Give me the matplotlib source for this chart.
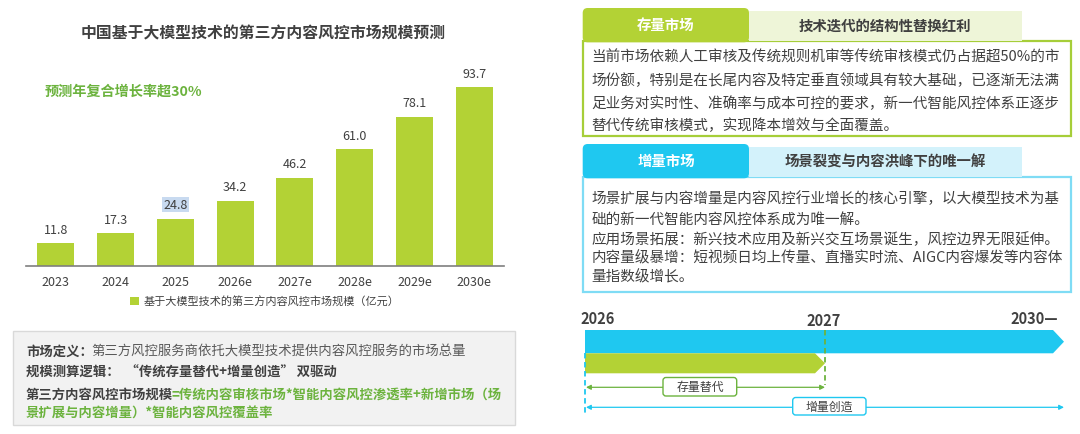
import matplotlib
matplotlib.use("Agg")
import matplotlib.pyplot as plt
from matplotlib.patches import Rectangle, FancyBboxPatch, Polygon

plt.rcParams['font.family'] = ['Noto Sans CJK SC', 'DejaVu Sans']

# data
years = ["2023", "2024", "2025", "2026e", "2027e", "2028e", "2029e", "2030e"]
values = [11.8, 17.3, 24.8, 34.2, 46.2, 61.0, 78.1, 93.7]
series_name = "基于大模型技术的第三方内容风控市场规模（亿元）"
title = "中国基于大模型技术的第三方内容风控市场规模预测"
cagr_note = "预测年复合增长率超30%"

box1_tab, box1_head = "存量市场", "技术迭代的结构性替换红利"
box1_lines = [
    "当前市场依赖人工审核及传统规则机审等传统审核模式仍占据超50%的市",
    "场份额，特别是在长尾内容及特定垂直领域具有较大基础，已逐渐无法满",
    "足业务对实时性、准确率与成本可控的要求，新一代智能风控体系正逐步",
    "替代传统审核模式，实现降本增效与全面覆盖。",
]
box2_tab, box2_head = "增量市场", "场景裂变与内容洪峰下的唯一解"
box2_lines = [
    "场景扩展与内容增量是内容风控行业增长的核心引擎，以大模型技术为基",
    "础的新一代智能内容风控体系成为唯一解。",
    "应用场景拓展：新兴技术应用及新兴交互场景诞生，风控边界无限延伸。",
    "内容量级暴增：短视频日均上传量、直播实时流、AIGC内容爆发等内容体",
    "量指数级增长。",
]

LIME = "#b3d235"
GREEN_TXT = "#6cb33e"
BLUE = "#1fc8f0"
DARK = "#404040"

fig = plt.figure(figsize=(10.8, 4.35), dpi=100)
renderer = fig.canvas.get_renderer()

# overlay in pixel units
ov = fig.add_axes([0, 0, 1, 1])
ov.set_xlim(0, 1080)
ov.set_ylim(435, 0)
ov.axis("off")

# bar chart
ax = fig.add_axes([26 / 1080, (435 - 267) / 435, 478 / 1080, 207 / 435])
ax.patch.set_alpha(0)
x = range(len(years))
bars = ax.bar(x, values, width=0.62, color=LIME, label=series_name)
ax.set_xlim(-0.5, len(years) - 0.5)
ax.set_ylim(0, 93.7 * 207 / 179)
ax.set_xticks(list(x))
ax.set_xticklabels(years, fontsize=9, color=DARK)
ax.tick_params(axis="x", length=0, pad=6.5)
ax.set_yticks([])
for s in ["top", "left", "right"]:
    ax.spines[s].set_visible(False)
ax.spines["bottom"].set_color("#7f7f7f")
ax.spines["bottom"].set_linewidth(1.2)
for i, v in enumerate(values):
    kw = {}
    if years[i] == "2025":
        kw["bbox"] = dict(boxstyle="square,pad=0.08", fc="#c8daf0", ec="none")
    ax.annotate(f"{v:.1f}", (i, v), xytext=(0, 10), textcoords="offset points",
                ha="center", va="center", fontsize=9, color=DARK, **kw)
ax.legend(loc="center", bbox_to_anchor=(0.5, -0.17), frameon=False, fontsize=8,
          handlelength=0.8, handleheight=0.8, handletextpad=0.4, labelcolor=DARK)

ov.text(263, 33, title, ha="center", va="center", fontsize=11.4, fontweight="bold", color=DARK)
ov.text(45, 92, cagr_note, ha="left", va="center", fontsize=10.2, fontweight="bold", color=GREEN_TXT)


def seq_text(x0, y, parts, size):
    xx = x0
    for s, color, weight in parts:
        t = ov.text(xx, y, s, fontsize=size, color=color, fontweight=weight, ha="left", va="center")
        xx += t.get_window_extent(renderer).width - 2


# bottom definition box
ov.add_patch(Rectangle((12.7, 332), 502, 94, fc="#f2f2f2", ec="#d9d9d9", lw=1))
fs = 9.6
seq_text(26, 351.5, [("市场定义：", DARK, "bold"),
                     ("第三方风控服务商依托大模型技术提供内容风控服务的市场总量", "#595959", "normal")], fs)
seq_text(26, 373, [("规模测算逻辑：  “传统存量替代+增量创造” 双驱动", DARK, "bold")], fs)
seq_text(26, 395, [("第三方内容风控市场规模", DARK, "bold"),
                   ("=传统内容审核市场*智能内容风控渗透率+新增市场（场", GREEN_TXT, "bold")], fs)
seq_text(26, 414, [("景扩展与内容增量）*智能内容风控覆盖率", GREEN_TXT, "bold")], fs)


def info_box(top, tab, head, lines, tab_color, head_color, edge, tab_h, body_bottom, line_ys):
    ov.add_patch(Rectangle((582.7, top + tab_h), 1071 - 582.7, body_bottom - top - tab_h,
                           fc="white", ec=edge, lw=1.6, zorder=2))
    ov.add_patch(Rectangle((749, top + 2.7), 1021.7 - 749, tab_h - 2.7, fc=head_color, ec="none", zorder=3))
    ov.add_patch(FancyBboxPatch((582.7, top), 749 - 582.7, tab_h + 1,
                                boxstyle="round,pad=0,rounding_size=5", fc=tab_color, ec="none", zorder=4))
    ov.text(666, top + tab_h / 2 + 0.5, tab, ha="center", va="center", fontsize=10.4,
            fontweight="bold", color="white", zorder=5)
    ov.text(885, top + 2.7 + (tab_h - 2.7) / 2, head, ha="center", va="center", fontsize=10.4,
            fontweight="bold", color=DARK, zorder=5)
    for ln, yy in zip(lines, line_ys):
        ov.text(591.7, yy, ln, ha="left", va="center", fontsize=10.5, color=DARK, zorder=5)


info_box(9, box1_tab, box1_head, box1_lines, LIME, "#eef5d8", "#a6ce39", 33.3, 136.7,
         [57.3, 80.8, 103.8, 126])
info_box(145, box2_tab, box2_head, box2_lines, BLUE, "#d3f2fb", "#7fdcf5", 33.3, 293.3,
         [198.3, 219.5, 239.3, 258.5, 277])

# timeline
ov.text(580.7, 319, "2026", ha="left", va="center", fontsize=10.5, fontweight="bold", color=DARK)
ov.text(824, 321, "2027", ha="center", va="center", fontsize=10.5, fontweight="bold", color=DARK)
ov.text(1058, 319, "2030—", ha="right", va="center", fontsize=10.5, fontweight="bold", color=DARK)
ov.add_patch(Polygon([(585, 331), (1053, 331), (1064, 342.7), (1053, 354.3), (585, 354.3)],
                     closed=True, fc=BLUE, ec="none"))
ov.add_patch(Polygon([(585, 354.3), (815, 354.3), (825, 364.3), (815, 374.3), (585, 374.3)],
                     closed=True, fc=LIME, ec="none"))
ov.plot([825, 825], [331, 386], color=GREEN_TXT, lw=1.3, ls=(0, (3, 2)))
ov.plot([585, 585], [354, 417], color=BLUE, lw=1.3, ls=(0, (3, 2)))
ov.annotate("", xy=(586, 388.3), xytext=(825, 388.3),
            arrowprops=dict(arrowstyle="<|-|>", color=GREEN_TXT, lw=0.9, mutation_scale=7,
                            shrinkA=0, shrinkB=0))
ov.annotate("", xy=(586, 408.3), xytext=(1064, 408.3),
            arrowprops=dict(arrowstyle="<|-|>", color=BLUE, lw=0.9, mutation_scale=7,
                            shrinkA=0, shrinkB=0))
ov.add_patch(FancyBboxPatch((663, 378.5), 73.7, 18.5, boxstyle="round,pad=0,rounding_size=3",
                            fc="white", ec=GREEN_TXT, lw=1, zorder=3))
ov.text(700, 387.6, "存量替代", ha="center", va="center", fontsize=8.6, color=DARK, zorder=4)
ov.add_patch(FancyBboxPatch((792.7, 398.5), 73.3, 17.5, boxstyle="round,pad=0,rounding_size=3",
                            fc="white", ec=BLUE, lw=1, zorder=3))
ov.text(829.3, 407.2, "增量创造", ha="center", va="center", fontsize=8.6, color=DARK, zorder=4)

fig.savefig("out.png", dpi=100)
